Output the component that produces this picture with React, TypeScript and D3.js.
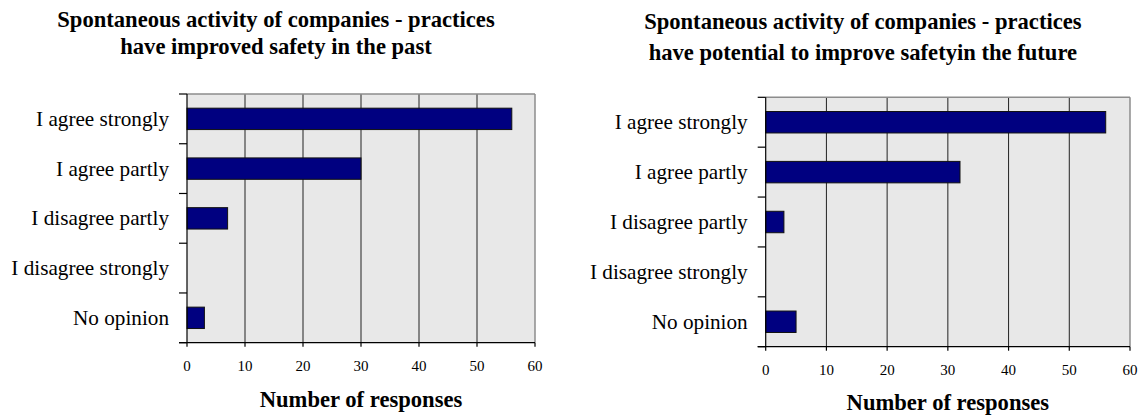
import React from "react";
import * as d3 from "d3";

const categories = [
  "I agree strongly",
  "I agree partly",
  "I disagree partly",
  "I disagree strongly",
  "No opinion",
];
const pastValues = [56, 30, 7, 0, 3];
const futureValues = [56, 32, 3, 0, 5];
const xTicks = [0, 10, 20, 30, 40, 50, 60];
const pastTitle = [
  "Spontaneous activity of companies - practices",
  "have improved safety in the past",
];
const futureTitle = [
  "Spontaneous activity of companies - practices",
  "have potential to improve safetyin the future",
];
const axisTitle = "Number of responses";

const FONT = '"Liberation Serif", "Times New Roman", Times, "DejaVu Serif", serif';

type PanelProps = {
  values: number[];
  title: string[];
  left: number;
  right: number;
  top: number;
  bottom: number;
  titleY: number[];
  axisTitleY: number;
};

function Panel({ values, title, left, right, top, bottom, titleY, axisTitleY }: PanelProps) {
  const x = d3.scaleLinear().domain([0, 60]).range([left, right]);
  const y = d3
    .scaleBand<string>()
    .domain(categories)
    .range([top, bottom])
    .paddingInner(0.57)
    .paddingOuter(0.285);
  const band = (bottom - top) / categories.length;
  const boundaries = d3.range(categories.length + 1).map((i) => top + i * band);
  const cx = (left + right) / 2;
  const titleX = cx - 85;
  const txt = { fontFamily: FONT } as React.CSSProperties;
  return (
    <g>
      {title.map((t, i) => (
        <text
          key={i}
          x={titleX}
          y={titleY[i]}
          textAnchor="middle"
          style={{ ...txt, fontWeight: 700, fontSize: "22.6px" }}
          fill="#000"
        >
          {t}
        </text>
      ))}
      <rect x={left} y={top} width={right - left} height={bottom - top} fill="#e8e8e8" />
      {xTicks
        .filter((t) => t > 0 && t < 60)
        .map((t) => (
          <line key={t} x1={x(t)} x2={x(t)} y1={top} y2={bottom} stroke="#222" strokeWidth={1} />
        ))}
      <line x1={left} x2={right} y1={top} y2={top} stroke="#8c8c8c" strokeWidth={1.5} />
      <line x1={right} x2={right} y1={top} y2={bottom} stroke="#8c8c8c" strokeWidth={1.5} />
      {values.map((v, i) =>
        v > 0 ? (
          <rect
            key={i}
            x={x(0)}
            y={y(categories[i])}
            width={x(v) - x(0)}
            height={y.bandwidth()}
            fill="#000080"
            stroke="#111"
            strokeWidth={1}
          />
        ) : null
      )}
      <line x1={left} x2={left} y1={top} y2={bottom} stroke="#000" strokeWidth={1.2} />
      <line x1={left - 8} x2={right} y1={bottom} y2={bottom} stroke="#000" strokeWidth={1.2} />
      {boundaries.map((b, i) => (
        <line key={i} x1={left - 8} x2={left} y1={b} y2={b} stroke="#000" strokeWidth={1.2} />
      ))}
      {xTicks.map((t) => (
        <g key={t}>
          <line x1={x(t)} x2={x(t)} y1={bottom} y2={bottom + 4} stroke="#000" strokeWidth={1.2} />
          <text
            x={x(t)}
            y={bottom + 28}
            textAnchor="middle"
            style={{ ...txt, fontSize: "15px" }}
            fill="#000"
          >
            {t}
          </text>
        </g>
      ))}
      {categories.map((c) => (
        <text
          key={c}
          x={left - 18}
          y={(y(c) as number) + y.bandwidth() / 2 + 7}
          textAnchor="end"
          style={{ ...txt, fontSize: "21.2px" }}
          fill="#000"
        >
          {c}
        </text>
      ))}
      <text
        x={cx}
        y={axisTitleY}
        textAnchor="middle"
        style={{ ...txt, fontWeight: 700, fontSize: "22.6px" }}
        fill="#000"
      >
        {axisTitle}
      </text>
    </g>
  );
}

export default function App() {
  return (
    <svg
      width={1145}
      height={416}
      style={{ position: "absolute", left: 0, top: 0, background: "#fff" }}
    >
      <rect x={0} y={0} width={1145} height={416} fill="#fff" />
      <Panel
        values={pastValues}
        title={pastTitle}
        left={187}
        right={535}
        top={94}
        bottom={342.7}
        titleY={[27, 54]}
        axisTitleY={406.7}
      />
      <Panel
        values={futureValues}
        title={futureTitle}
        left={765.7}
        right={1130}
        top={97.3}
        bottom={346.7}
        titleY={[29, 60]}
        axisTitleY={410}
      />
    </svg>
  );
}
